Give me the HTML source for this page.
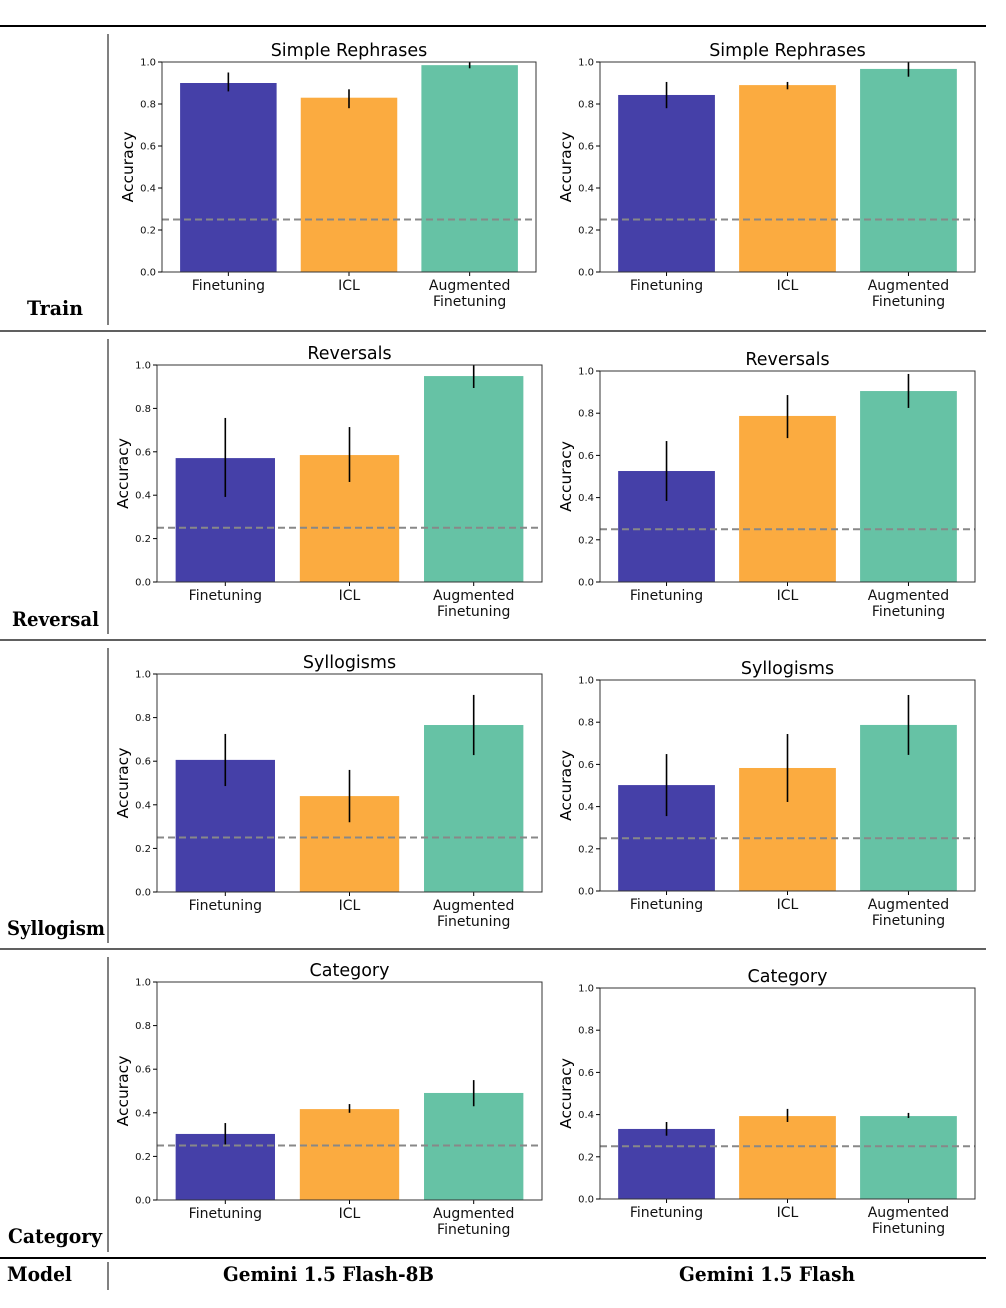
<!DOCTYPE html>
<html><head><meta charset="utf-8"><style>
body{margin:0;background:#fff;width:1006px;height:1308px;overflow:hidden}
svg{display:block}
</style></head><body>
<svg id="fig" width="1006" height="1308" xmlns="http://www.w3.org/2000/svg" font-family="DejaVu Sans, sans-serif"></svg>
<script>
const categories = ["Finetuning","ICL","Augmented Finetuning"];
const panelTitles = ["Simple Rephrases","Reversals","Syllogisms","Category"];
const rowLabels = ["Train","Reversal","Syllogism","Category"];
const modelNames = ["Gemini 1.5 Flash-8B","Gemini 1.5 Flash"];
const yTicks = [0.0,0.2,0.4,0.6,0.8,1.0];
const chanceLevel = 0.25;
const meanValues = [
 [[0.90,0.83,0.985],[0.843,0.89,0.967]],
 [[0.571,0.585,0.949],[0.526,0.787,0.905]],
 [[0.606,0.44,0.766],[0.502,0.583,0.787]],
 [[0.303,0.417,0.491],[0.332,0.393,0.393]]
];
const errLow = [
 [[0.86,0.78,0.97],[0.78,0.87,0.93]],
 [[0.392,0.461,0.894],[0.384,0.682,0.825]],
 [[0.486,0.32,0.628],[0.355,0.422,0.645]],
 [[0.252,0.40,0.43],[0.30,0.365,0.384]]
];
const errHigh = [
 [[0.95,0.87,1.0],[0.905,0.905,1.0]],
 [[0.756,0.714,1.0],[0.668,0.886,0.986]],
 [[0.725,0.56,0.904],[0.649,0.744,0.929]],
 [[0.353,0.44,0.55],[0.365,0.427,0.408]]
];
const colors = ["#4540a8","#fbab40","#66c2a5"];
const axesBoxes = [
 [[162,62,536,272],[600,62,975,272]],
 [[157,365,542,582],[600,371,975,582]],
 [[157,674,542,892],[600,680,975,891]],
 [[157,982,542,1200],[600,988,975,1199]]
];
const svg = document.getElementById('fig');
const NS = "http://www.w3.org/2000/svg";
function el(tag, attrs, parent){const e=document.createElementNS(NS,tag);for(const k in attrs)e.setAttribute(k,attrs[k]);(parent||svg).appendChild(e);return e;}
function txt(s, attrs, parent){const e=el('text',attrs,parent);e.textContent=s;return e;}

let l;
l=el('line',{x1:0,y1:26,x2:986,y2:26,stroke:'#000','stroke-width':2});

[331,640,949].forEach(y=>{l=el('line',{x1:0,y1:y,x2:986,y2:y,stroke:'#000','stroke-width':1.2});
});
l=el('line',{x1:0,y1:1258,x2:986,y2:1258,stroke:'#000','stroke-width':2});

[[34,325],[339,634],[648,943],[957,1252],[1262,1290]].forEach(s=>{l=el('line',{x1:108,y1:s[0],x2:108,y2:s[1],stroke:'#000','stroke-width':1});
});

const serif={'font-family':'DejaVu Serif, serif','font-weight':'bold','font-size':20,lengthAdjust:'spacingAndGlyphs'};
const rowLabelPos=[[27,315,56],[12,626,87],[7,935,98],[8,1243,94]];
rowLabels.forEach((r,i)=>{const t=txt(r,Object.assign({x:rowLabelPos[i][0],y:rowLabelPos[i][1],textLength:rowLabelPos[i][2]},serif));
});
let t=txt('Model',Object.assign({x:7,y:1281,textLength:65},serif));

[[223,211],[679,176]].forEach((p,i)=>{const t=txt(modelNames[i],Object.assign({x:p[0],y:1281,textLength:p[1]},serif));
});

for(let r=0;r<4;r++)for(let m=0;m<2;m++){
 const [x0,y0,x1,y1]=axesBoxes[r][m];
 const g=el('g',{});
 
 
 const unit=(x1-x0)/3.1;
 const xs=i=>x0+(i+0.55)*unit;
 const ys=v=>y1-v*(y1-y0);
 categories.forEach((c,i)=>{
  const v=meanValues[r][m][i];
  const b=el('rect',{x:xs(i)-0.4*unit,y:ys(v),width:0.8*unit,height:ys(0)-ys(v),fill:colors[i]},g);
  
  const e=el('line',{x1:xs(i),x2:xs(i),y1:ys(errLow[r][m][i]),y2:ys(errHigh[r][m][i]),stroke:'#000','stroke-width':1.6},g);
  
  const tk=el('line',{x1:xs(i),x2:xs(i),y1:y1,y2:y1+4,stroke:'#000','stroke-width':1},g);
  
  const words=c==="Augmented Finetuning"?["Augmented","Finetuning"]:[c];
  words.forEach((w,k)=>{const lt=txt(w,{x:xs(i),y:y1+18+k*16,'text-anchor':'middle','font-size':14,fill:'#111'},g);
   });
 });
 const d=el('line',{x1:x0,x2:x1,y1:ys(chanceLevel),y2:ys(chanceLevel),stroke:'#888','stroke-width':2,'stroke-dasharray':'7,4'},g);
 
 const fr=el('rect',{x:x0,y:y0,width:x1-x0,height:y1-y0,fill:'none',stroke:'#333','stroke-width':1},g);
 
 yTicks.forEach(v=>{
  const tk=el('line',{x1:x0-4,x2:x0,y1:ys(v),y2:ys(v),stroke:'#000','stroke-width':1},g);
  
  const lt=txt(v.toFixed(1),{x:x0-6,y:ys(v)+3.5,'text-anchor':'end','font-size':10,fill:'#111'},g);
  
 });
 const yc=(y0+y1)/2, xl=x0-29;
 const yt=txt('Accuracy',{x:xl,y:yc,'text-anchor':'middle','font-size':15.5,transform:`rotate(-90 ${xl} ${yc})`},g);
 
 const tt=txt(panelTitles[r],{x:(x0+x1)/2,y:y0-6,'text-anchor':'middle','font-size':17.5},g);
 
}
</script>
</body></html>
